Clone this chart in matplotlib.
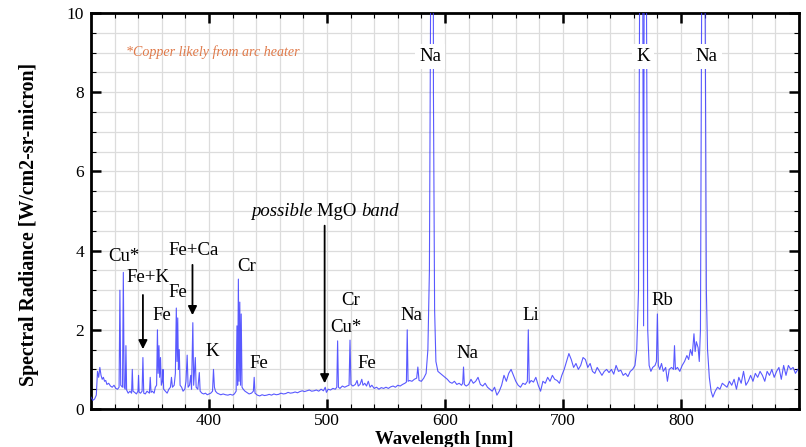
import matplotlib
matplotlib.use("Agg")
import matplotlib.pyplot as plt
from matplotlib.ticker import MultipleLocator

wavelength_nm = [
    300.0, 301.5, 303.0, 304.5, 305.5, 306.5, 307.5, 308.5, 309.5, 310.5, 311.5, 312.5, 313.5, 315.0, 316.5,
    318.0, 319.5, 321.0, 322.5, 323.8, 324.5, 325.2, 326.7, 327.4, 328.1, 329.0, 329.6, 330.2, 331.5, 333.0,
    334.4, 335.0, 335.6, 337.0, 338.5, 339.8, 340.3, 340.8, 342.0, 343.3, 344.0, 344.7, 346.0, 347.5, 349.5,
    350.2, 350.9, 352.0, 353.5, 354.5, 355.6, 356.3, 356.9, 357.6, 358.2, 358.9, 359.6, 360.5, 361.0, 361.6,
    363.0, 364.5, 366.0, 367.3, 368.2, 369.0, 370.5, 371.5, 372.3, 372.9, 373.5, 374.1, 374.8, 375.5, 376.8,
    378.0, 379.5, 380.5, 381.5, 382.3, 383.5, 384.5, 385.2, 386.3, 387.0, 388.4, 389.1, 390.5, 391.8, 392.5,
    394.0, 395.5, 397.0, 398.5, 400.0, 401.5, 403.0, 403.8, 404.6, 405.5, 407.0, 408.5, 410.0, 412.0, 414.0,
    416.0, 418.0, 420.0, 421.5, 423.0, 423.7, 424.3, 424.9, 425.5, 426.1, 426.7, 427.3, 428.0, 429.0, 430.5,
    432.0, 434.0, 436.0, 437.6, 438.3, 439.0, 441.0, 443.0, 445.0, 447.0, 449.0, 451.0, 453.0, 455.0, 457.0,
    459.0, 461.0, 463.0, 465.0, 467.0, 469.0, 471.0, 473.0, 475.0, 477.0, 479.0, 481.0, 483.0, 485.0, 487.0,
    489.0, 491.0, 493.0, 495.0, 497.0, 498.5, 499.5, 501.0, 503.0, 505.0, 507.0, 508.3, 509.0, 509.7, 511.0,
    513.0, 515.0, 517.0, 518.7, 519.5, 520.3, 522.0, 524.0, 525.5, 526.5, 528.0, 529.5, 530.5, 532.0, 533.5,
    535.0, 536.5, 538.0, 540.0, 542.0, 544.0, 546.0, 548.0, 550.0, 552.0, 554.0, 556.0, 558.0, 560.0, 562.0,
    564.0, 566.0, 567.3, 568.0, 568.7, 570.0, 572.0, 574.0, 576.0, 577.0, 578.0, 580.0, 582.0, 584.0, 585.5,
    586.8, 587.8, 588.6, 589.0, 589.4, 590.2, 591.2, 592.3, 594.0, 596.0, 598.0, 600.0, 602.0, 604.0, 606.0,
    608.0, 610.0, 612.0, 614.0, 615.0, 615.7, 616.4, 618.0, 620.0, 622.0, 624.0, 626.0, 628.0, 630.0, 632.0,
    634.0, 636.0, 638.0, 640.0, 642.0, 644.0, 646.0, 648.0, 650.0, 652.0, 654.0, 656.0, 658.0, 660.0, 662.0,
    664.0, 666.0, 668.0, 669.8, 670.6, 671.4, 673.0, 675.0, 677.0, 679.0, 681.0, 683.0, 685.0, 687.0, 689.0,
    691.0, 693.0, 695.0, 697.0, 699.0, 701.0, 703.0, 705.0, 707.0, 709.0, 711.0, 713.0, 715.0, 717.0, 719.0,
    721.0, 723.0, 725.0, 727.0, 729.0, 731.0, 733.0, 735.0, 737.0, 739.0, 741.0, 743.0, 745.0, 747.0, 749.0,
    751.0, 753.0, 755.0, 757.0, 759.0, 761.0, 762.5, 764.0, 765.5, 766.5, 767.5, 768.3, 769.0, 769.9, 770.8,
    771.8, 773.0, 774.5, 776.0, 778.0, 779.2, 780.0, 780.8, 782.0, 783.5, 785.0, 787.0, 788.5, 790.0, 792.0,
    793.7, 794.5, 795.3, 797.0, 799.0, 801.0, 803.0, 805.0, 806.5, 808.0, 809.5, 811.0, 812.0, 813.0, 814.5,
    815.5, 816.5, 817.5, 818.3, 819.5, 820.5, 821.5, 822.5, 824.0, 825.5, 827.0, 829.0, 831.0, 833.0, 835.0,
    837.0, 839.0, 841.0, 843.0, 845.0, 847.0, 849.0, 851.0, 853.0, 855.0, 857.0, 859.0, 861.0, 863.0, 865.0,
    867.0, 869.0, 871.0, 873.0, 875.0, 877.0, 879.0, 881.0, 883.0, 885.0, 887.0, 889.0, 891.0, 893.0, 895.0,
    897.0, 899.0,
]

radiance = [
    0.30, 0.22, 0.25, 0.35, 0.95, 0.80, 1.05, 0.85, 0.75, 0.80, 0.70, 0.72, 0.62, 0.65, 0.58,
    0.55, 0.60, 0.52, 0.50, 0.55, 3.00, 0.60, 0.55, 3.45, 0.55, 0.50, 1.60, 0.48, 0.40, 0.45,
    0.40, 1.00, 0.45, 0.42, 0.38, 0.45, 0.85, 0.42, 0.40, 0.45, 1.30, 0.40, 0.38, 0.45, 0.40,
    0.80, 0.42, 0.45, 0.40, 0.55, 0.60, 2.00, 0.90, 1.60, 0.80, 1.30, 0.60, 0.70, 1.00, 0.50,
    0.45, 0.40, 0.50, 0.55, 0.80, 0.55, 0.60, 0.90, 2.55, 1.20, 2.30, 1.00, 1.50, 0.60, 0.55,
    0.45, 0.50, 0.70, 1.36, 0.55, 0.60, 0.85, 0.50, 2.18, 0.60, 1.30, 0.55, 0.50, 0.92, 0.45,
    0.40, 0.38, 0.40, 0.36, 0.38, 0.40, 0.45, 1.00, 0.55, 0.45, 0.40, 0.38, 0.36, 0.38, 0.36,
    0.35, 0.37, 0.35, 0.38, 0.45, 2.10, 0.60, 3.28, 0.70, 2.70, 0.60, 2.40, 0.55, 0.50, 0.45,
    0.42, 0.38, 0.40, 0.45, 0.80, 0.40, 0.35, 0.33, 0.36, 0.34, 0.35, 0.37, 0.35, 0.38, 0.36,
    0.37, 0.40, 0.38, 0.39, 0.42, 0.40, 0.41, 0.43, 0.41, 0.44, 0.46, 0.44, 0.46, 0.48, 0.45,
    0.46, 0.48, 0.45, 0.50, 0.46, 0.55, 0.42, 0.50, 0.48, 0.52, 0.50, 0.55, 1.72, 0.55, 0.52,
    0.58, 0.55, 0.58, 0.60, 1.74, 0.62, 0.58, 0.62, 0.72, 0.58, 0.62, 0.75, 0.60, 0.65, 0.58,
    0.70, 0.55, 0.60, 0.52, 0.55, 0.50, 0.54, 0.52, 0.55, 0.52, 0.56, 0.58, 0.55, 0.60, 0.58,
    0.62, 0.65, 0.68, 2.00, 0.70, 0.72, 0.70, 0.75, 0.78, 1.06, 0.72, 0.70, 0.78, 0.90, 1.50,
    3.50, 10.0, 40.0, 38.0, 40.0, 8.00, 2.50, 1.20, 0.95, 0.90, 0.85, 0.80, 0.75, 0.68, 0.65,
    0.70, 0.62, 0.65, 0.60, 0.65, 1.06, 0.62, 0.58, 0.62, 0.75, 0.65, 0.70, 0.80, 0.62, 0.58,
    0.65, 0.55, 0.50, 0.45, 0.55, 0.35, 0.45, 0.60, 0.85, 0.70, 0.90, 1.00, 0.85, 0.70, 0.60,
    0.55, 0.65, 0.62, 0.70, 2.00, 0.65, 0.72, 0.68, 0.80, 0.60, 0.45, 0.70, 0.65, 0.80, 0.70,
    0.85, 0.75, 0.72, 0.65, 0.85, 1.00, 1.20, 1.40, 1.25, 1.05, 1.15, 1.00, 1.10, 1.30, 1.25,
    1.05, 1.15, 0.95, 0.90, 1.05, 0.95, 0.85, 0.95, 1.00, 0.92, 1.00, 0.88, 1.10, 0.95, 0.98,
    0.85, 0.90, 0.82, 0.95, 1.00, 1.10, 1.50, 3.00, 15.0, 40.0, 12.0, 2.10, 15.0, 40.0, 10.0,
    2.00, 1.10, 0.95, 1.05, 1.10, 1.20, 2.40, 1.10, 1.00, 1.15, 0.95, 1.05, 0.70, 1.00, 1.05,
    1.00, 1.60, 1.00, 1.05, 0.95, 1.10, 1.20, 1.35, 1.25, 1.50, 1.35, 1.90, 1.45, 1.70, 1.55,
    1.20, 2.00, 10.0, 40.0, 40.0, 10.0, 3.00, 1.50, 0.80, 0.45, 0.30, 0.45, 0.55, 0.50, 0.65,
    0.60, 0.55, 0.70, 0.60, 0.75, 0.50, 0.80, 0.65, 0.95, 0.60, 0.70, 0.85, 0.70, 0.90, 0.80,
    0.95, 0.85, 0.70, 0.95, 0.85, 1.00, 0.80, 0.95, 1.05, 0.75, 1.10, 0.85, 1.10, 1.00, 1.05,
    0.90, 1.00,
]

# annotation labels: (text, wavelength, value)
line_labels = [
    ("Cu*", 328, 3.86), ("Fe+K", 348, 3.33), ("Fe+Ca", 387, 4.0), ("Fe", 360, 2.35),
    ("Fe", 373.5, 2.93), ("K", 403, 1.46), ("Cr", 431.5, 3.6), ("Fe", 442.5, 1.14),
    ("Cr", 520, 2.75), ("Cu*", 516, 2.07), ("Fe", 533.5, 1.14), ("Na", 572, 2.35),
    ("Na", 619, 1.39), ("Li", 672.5, 2.35), ("Rb", 784, 2.75),
]
top_labels = [("Na", 587.5, 8.9), ("K", 768, 8.9), ("Na", 822, 8.9)]

# arrows: (wavelength, value_start, value_end)
arrows = [(498, 4.7, 0.58), (344, 2.95, 1.44), (386, 3.71, 2.3)]

plt.rcParams['font.family'] = ['Liberation Serif', 'DejaVu Serif']

fig = plt.figure(figsize=(8.06, 4.47), dpi=100)
ax = fig.add_axes([0.1129, 0.0850, 0.8784, 0.8859])

ax.plot(wavelength_nm, radiance, color='#3c3cff', lw=0.8, alpha=0.85, zorder=3)

ax.set_xlim(300, 900)
ax.set_ylim(0, 10)
ax.xaxis.set_minor_locator(MultipleLocator(20))
ax.yaxis.set_major_locator(MultipleLocator(2))
ax.yaxis.set_minor_locator(MultipleLocator(0.5))
ax.set_xticks([400, 500, 600, 700, 800])
ax.grid(which='both', color='#dcdcdc', lw=0.9, zorder=0)
ax.set_axisbelow(True)
ax.tick_params(which='major', direction='in', length=7, width=1.8, top=True, right=True,
               labelsize=12.5, pad=5)
ax.tick_params(axis='x', which='major', pad=3)
ax.tick_params(which='minor', direction='in', length=3.5, width=0.8, top=True, right=True)
for s in ax.spines.values():
    s.set_linewidth(2.0)

ax.set_xlabel("Wavelength [nm]", fontsize=13.5, fontweight='bold')
ax.xaxis.set_label_coords(0.4993, -0.056)
ax.set_ylabel("Spectral Radiance [W/cm2-sr-micron]", fontsize=14.3, fontweight='bold')
ax.yaxis.set_label_coords(-0.087, 0.465)
ax.yaxis.label.set_va('center')

for t, x, y in line_labels:
    ax.text(x, y, t, fontsize=13.5, ha='center', va='center', zorder=5)
for t, x, y in top_labels:
    ax.text(x, y, t, fontsize=13.5, ha='center', va='center', zorder=5,
            bbox=dict(facecolor='white', edgecolor='none', pad=3))

ax.text(330, 9.0, "*Copper likely from arc heater", fontsize=10.1, style='italic',
        color='#e07a4a', ha='left', va='center')

for x, y0, y1 in arrows:
    ax.annotate("", xy=(x, y1), xytext=(x, y0),
                arrowprops=dict(arrowstyle='-|>', color='black', lw=1.3, mutation_scale=13))

t1 = ax.text(435.5, 5.0, "possible ", fontsize=13.5, style='italic', ha='left', va='center')
t2 = ax.annotate("MgO ", xy=(1, 0.5), xycoords=t1, fontsize=13.5, ha='left', va='center')
t3 = ax.annotate("band", xy=(1, 0.5), xycoords=t2, fontsize=13.5, style='italic', ha='left', va='center')

fig.savefig("out.png", dpi=100)
